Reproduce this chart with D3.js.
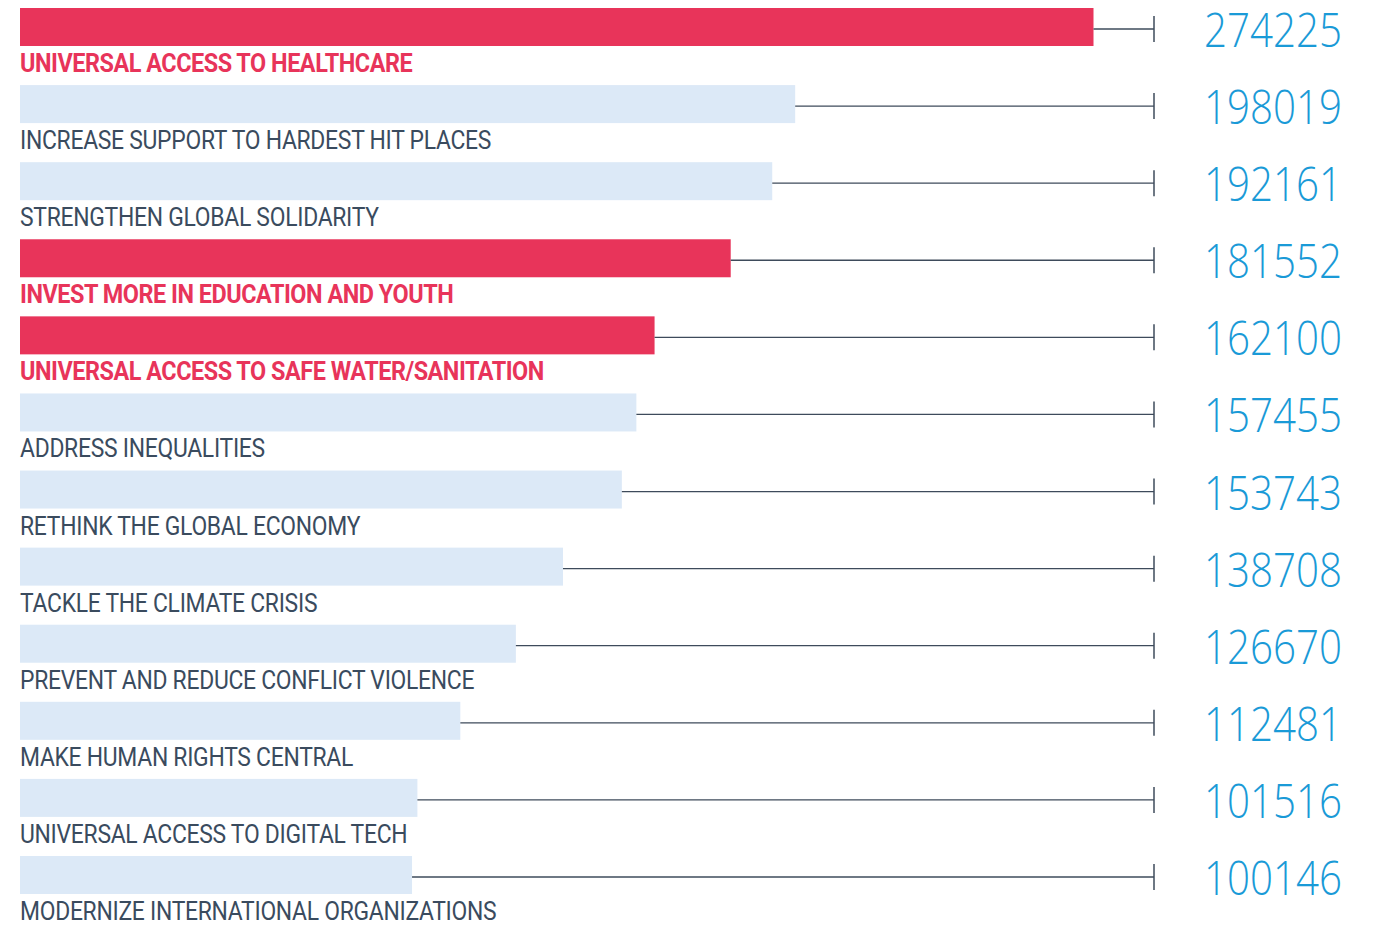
<!DOCTYPE html>
<html>
<head>
<meta charset="utf-8">
<script src="https://cdn.jsdelivr.net/npm/d3@7"></script>
<style>
  html, body { margin: 0; padding: 0; background: #fff; }
  svg { display: block; }
</style>
</head>
<body>
<svg id="chart" width="1376" height="927"></svg>
<script>
const categories = [
  "UNIVERSAL ACCESS TO HEALTHCARE",
  "INCREASE SUPPORT TO HARDEST HIT PLACES",
  "STRENGTHEN GLOBAL SOLIDARITY",
  "INVEST MORE IN EDUCATION AND YOUTH",
  "UNIVERSAL ACCESS TO SAFE WATER/SANITATION",
  "ADDRESS INEQUALITIES",
  "RETHINK THE GLOBAL ECONOMY",
  "TACKLE THE CLIMATE CRISIS",
  "PREVENT AND REDUCE CONFLICT VIOLENCE",
  "MAKE HUMAN RIGHTS CENTRAL",
  "UNIVERSAL ACCESS TO DIGITAL TECH",
  "MODERNIZE INTERNATIONAL ORGANIZATIONS"
];
const values = [274225, 198019, 192161, 181552, 162100, 157455, 153743, 138708, 126670, 112481, 101516, 100146];
const highlighted = [true, false, false, true, true, false, false, false, false, false, false, false];

const data = categories.map((c, i) => ({ cat: c, value: values[i], hi: highlighted[i] }));

const svg = d3.select("#chart");
const x = d3.scaleLinear().domain([0, 274225]).range([20, 1093.5]);
const y = d3.scaleBand().domain(categories).range([8, 8 + 12 * 77.09]).padding(0);
const barH = 38;
const tickX = 1154;

const RED = "#e8345a", LIGHT = "#dce9f7", BLUE = "#1a9ad7", LINE = "#3e4b5b", LABEL = "#3a4b5e";

const g = svg.append("g");
const rows = g.selectAll("g.row").data(data).join("g").attr("class", "row");

rows.append("rect")
  .attr("x", x(0))
  .attr("y", d => y(d.cat))
  .attr("width", d => x(d.value) - x(0))
  .attr("height", barH)
  .attr("fill", d => d.hi ? RED : LIGHT);

rows.append("line")
  .attr("x1", d => x(d.value))
  .attr("x2", tickX)
  .attr("y1", d => y(d.cat) + 21)
  .attr("y2", d => y(d.cat) + 21)
  .attr("stroke", LINE)
  .attr("stroke-width", 1.3);

rows.append("line")
  .attr("x1", tickX).attr("x2", tickX)
  .attr("y1", d => y(d.cat) + 8)
  .attr("y2", d => y(d.cat) + 34)
  .attr("stroke", LINE)
  .attr("stroke-width", 1.5);

rows.append("text")
  .attr("x", 1342)
  .attr("y", d => y(d.cat) + 39)
  .attr("transform", "translate(1342,0) scale(0.84,1) translate(-1342,0)")
  .attr("text-anchor", "end")
  .attr("font-family", "'Open Sans', sans-serif")
  .attr("font-weight", 300)
  .attr("font-size", 48)
  .attr("fill", BLUE)
  .text(d => d.value);

rows.append("text")
  .attr("x", 20)
  .attr("y", d => y(d.cat) + 64)
  .attr("transform", d => `translate(20,0) scale(${d.hi ? 0.9 : 0.88},1) translate(-20,0)`)
  .attr("font-family", "Roboto, sans-serif")
  .attr("font-weight", d => d.hi ? 700 : 400)
  .attr("font-size", 26)
  .attr("letter-spacing", d => d.hi ? -0.5 : -0.3)
  .attr("fill", d => d.hi ? RED : LABEL)
  .text(d => d.cat);
</script>
</body>
</html>
